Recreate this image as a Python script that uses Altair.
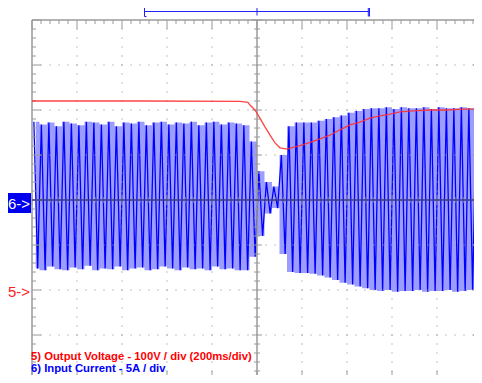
import altair as alt
import pandas as pd

# Channel 5: output voltage (V), 100 V/div, ground 2 div below centre
volt_t_ms = [-1000, -500, -76, -40, -31, -9, 13, 36, 58, 80, 102, 133, 169, 191, 236,
             280, 324, 369, 413, 458, 502, 547, 591, 636, 693, 769, 844, 916, 1000]
volt_v = [420, 420, 419, 417, 411, 400, 382, 362, 344, 327, 316, 313, 318, 321, 328,
          336, 344, 356, 367, 373, 382, 387, 391, 396, 398, 400, 400, 402, 402]

# Channel 6: input current (A), 5 A/div, displayed peaks (one pair per displayed cycle)
cur_upper = [8.7, 8.4, 8.6, 8.2, 8.7, 8.5, 8.3, 8.7, 8.6, 8.4, 8.7, 8.2, 8.6, 8.5, 8.7,
             8.3, 8.6, 8.7, 8.4, 8.6, 8.5, 8.7, 8.3, 8.6, 8.7, 8.4, 8.6, 8.5, 8.3,
             6.5, 3.2, 2.0, 1.5, 5.0, 8.2, 8.6, 8.6, 8.6, 8.8, 9.0, 9.2, 9.4, 9.7, 9.9,
             10.1, 10.2, 10.2, 10.3, 10.1, 10.3, 10.2, 10.2, 10.3, 10.1, 10.3, 10.2,
             10.2, 10.3, 10.2, 10.1]
cur_lower = [-7.6, -7.8, -7.4, -7.7, -7.8, -7.5, -7.7, -7.3, -7.8, -7.6, -7.7, -7.4,
             -7.8, -7.6, -7.5, -7.8, -7.7, -7.4, -7.6, -7.8, -7.5, -7.7, -7.6, -7.8,
             -7.4, -7.7, -7.6, -7.8, -7.8,
             -6.3, -4.0, -1.5, -0.9, -6.0, -8.0, -8.1, -8.1, -8.2, -8.4, -8.6, -8.9,
             -9.2, -9.4, -9.6, -9.8, -10.0, -10.1, -10.0, -10.2, -10.1, -10.1, -10.0,
             -10.2, -10.1, -10.1, -10.0, -10.2, -10.1, -10.0, -10.1]
sample_ms = 2000 / 120          # displayed half-cycle spacing

cursor_ms = [-500, 500]
trigger_ms = 0

label_ch5 = "5) Output Voltage - 100V / div (200ms/div)"
label_ch6 = "6) Input Current - 5A / div"

# ---------------- tables ----------------
volt = pd.DataFrame({"t": volt_t_ms, "v": volt_v})
volt["y"] = volt["v"] / 100 - 2

rows = []
for k, (u, l) in enumerate(zip(cur_upper, cur_lower)):
    rows.append({"i": 2 * k, "t": -1000 + sample_ms * (2 * k + 0.5), "a": u})
    rows.append({"i": 2 * k + 1, "t": -1000 + sample_ms * (2 * k + 1.5), "a": l})
cur = pd.DataFrame(rows)
cur["y"] = cur["a"] / 5

env = pd.DataFrame({"t": [-1000 + sample_ms * (2 * k + 1) for k in range(len(cur_upper))],
                    "u": [u / 5 for u in cur_upper], "l": [l / 5 for l in cur_lower]})

PXX = 2000 / 450
PXY = 8 / 360

ticks = []
for n in range(-25, 26):
    t = n * 40
    L = 9 if n % 5 == 0 else 4
    ticks.append({"x": t, "x2": t, "y": 4, "y2": 4 - L * PXY})
    ticks.append({"x": t, "x2": t, "y": -4, "y2": -4 + L * PXY})
    c = 5 if n % 5 == 0 else 3
    ticks.append({"x": t, "x2": t, "y": -c * PXY, "y2": c * PXY})
for j in range(-20, 21):
    yv = j / 5
    L = 9 if j % 5 == 0 else 4
    ticks.append({"x": -1000, "x2": -1000 + L * PXX, "y": yv, "y2": yv})
    ticks.append({"x": 1000, "x2": 1000 - L * PXX, "y": yv, "y2": yv})
    c = 5 if j % 5 == 0 else 3
    ticks.append({"x": -c * PXX, "x2": c * PXX, "y": yv, "y2": yv})
ticks = pd.DataFrame(ticks)

frame = pd.DataFrame([
    {"x": -1000, "x2": 1000, "y": 4, "y2": 4},
    {"x": -1000, "x2": 1000, "y": -4, "y2": -4},
    {"x": -1000, "x2": -1000, "y": -4, "y2": 4},
    {"x": 1000, "x2": 1000, "y": -4, "y2": 4},
    {"x": 0, "x2": 0, "y": -4, "y2": 4},
])
hcenter = pd.DataFrame([{"x": -1000, "x2": 1000, "y": 0, "y2": 0}])

dots = []
for t in [-800, -600, -400, -200, 200, 400, 600, 800]:
    for j in range(-19, 20):
        dots.append({"x": t, "y": j / 5})
for yv in [-3, -2, -1, 1, 2, 3]:
    for n in range(-24, 25):
        dots.append({"x": n * 40, "y": yv})
dots = pd.DataFrame(dots)

YB = (200 - 11.5) / 45
brk = pd.DataFrame([
    {"x": cursor_ms[0], "x2": cursor_ms[1], "y": YB, "y2": YB},
    {"x": cursor_ms[0], "x2": cursor_ms[0], "y": YB - 5 * PXY, "y2": YB + 5 * PXY},
    {"x": cursor_ms[0], "x2": cursor_ms[0] + 2 * PXX, "y": YB - 5 * PXY, "y2": YB - 5 * PXY},
    {"x": cursor_ms[0], "x2": cursor_ms[0] + 2 * PXX, "y": YB + 5 * PXY, "y2": YB + 5 * PXY},
    {"x": cursor_ms[1], "x2": cursor_ms[1], "y": YB - 5 * PXY, "y2": YB + 5 * PXY},
    {"x": cursor_ms[1] - 1.2 * PXX, "x2": cursor_ms[1] - 1.2 * PXX, "y": YB - 5 * PXY, "y2": YB + 5 * PXY},
    {"x": trigger_ms, "x2": trigger_ms, "y": YB - 4 * PXY, "y2": YB + 5 * PXY},
    {"x": trigger_ms - 3 * PXX, "x2": trigger_ms + 3 * PXX, "y": YB + 5 * PXY, "y2": YB + 5 * PXY},
])

xs = alt.Scale(domain=[-1000, 1000], nice=False, zero=False)
ys = alt.Scale(domain=[-4, 4], nice=False, zero=False)


def X(f="x"):
    return alt.X(f + ":Q", scale=xs, axis=None)


def Y(f="y"):
    return alt.Y(f + ":Q", scale=ys, axis=None)


env_layer = alt.Chart(env).mark_area(color="#8c8cff", opacity=0.85, interpolate="step").encode(
    x=X("t"), y=Y("u"), y2="l:Q")
cur_layer = alt.Chart(cur).mark_line(color="#0000ff", strokeWidth=1.3).encode(
    x=X("t"), y=Y("y"), order="i:Q")
volt_layer = alt.Chart(volt).mark_line(color="#ff3030", strokeWidth=1.3, opacity=0.9).encode(
    x=X("t"), y=Y("y"))
dots_layer = alt.Chart(dots).mark_square(size=1.5, color="#9a9a9a", opacity=1).encode(
    x=X(), y=Y())
ticks_layer = alt.Chart(ticks).mark_rule(color="#9a9a9a", strokeWidth=1).encode(
    x=X(), x2="x2:Q", y=Y(), y2="y2:Q")
frame_layer = alt.Chart(frame).mark_rule(color="#9a9a9a", strokeWidth=1.5).encode(
    x=X(), x2="x2:Q", y=Y(), y2="y2:Q")
hc_layer = alt.Chart(hcenter).mark_rule(color="#3a3a8a", strokeWidth=1.3).encode(
    x=X(), x2="x2:Q", y=Y(), y2="y2:Q")
brk_layer = alt.Chart(brk).mark_rule(color="#2020ff", strokeWidth=1).encode(
    x=X(), x2="x2:Q", y=Y(), y2="y2:Q")

one = pd.DataFrame({"k": [0]})
box6 = alt.Chart(one).mark_rect(color="#0000f0").encode(
    x=alt.value(-25), x2=alt.value(-1), y=alt.value(173), y2=alt.value(193))
txt6 = alt.Chart(pd.DataFrame({"s": ["6->"]})).mark_text(
    color="white", font="Liberation Sans", fontSize=15, align="center", baseline="middle").encode(
    x=alt.value(-13), y=alt.value(183.5), text="s:N")
txt5 = alt.Chart(pd.DataFrame({"s": ["5->"]})).mark_text(
    color="#ff2020", font="Liberation Sans", fontSize=15, align="center", baseline="middle").encode(
    x=alt.value(-13), y=alt.value(271.5), text="s:N")
lab5 = alt.Chart(pd.DataFrame({"s": [label_ch5]})).mark_text(
    color="#ff0000", font="Liberation Sans", fontWeight="bold", fontSize=11.3, align="left",
    baseline="alphabetic").encode(x=alt.value(-1), y=alt.value(339.5), text="s:N")
lab6 = alt.Chart(pd.DataFrame({"s": [label_ch6]})).mark_text(
    color="#0000ff", font="Liberation Sans", fontWeight="bold", fontSize=11.3, align="left",
    baseline="alphabetic").encode(x=alt.value(-1), y=alt.value(352), text="s:N")

chart = alt.layer(
    env_layer, cur_layer, dots_layer, ticks_layer, frame_layer, hc_layer, volt_layer,
    brk_layer, box6, txt6, txt5, lab5, lab6
).properties(
    width=450, height=360, autosize="none",
    padding={"left": 24, "top": 12, "right": -8, "bottom": -5},
    background="white",
).configure_view(stroke=None)

chart.save("out.html", embed_options={"renderer": "svg", "actions": False})
